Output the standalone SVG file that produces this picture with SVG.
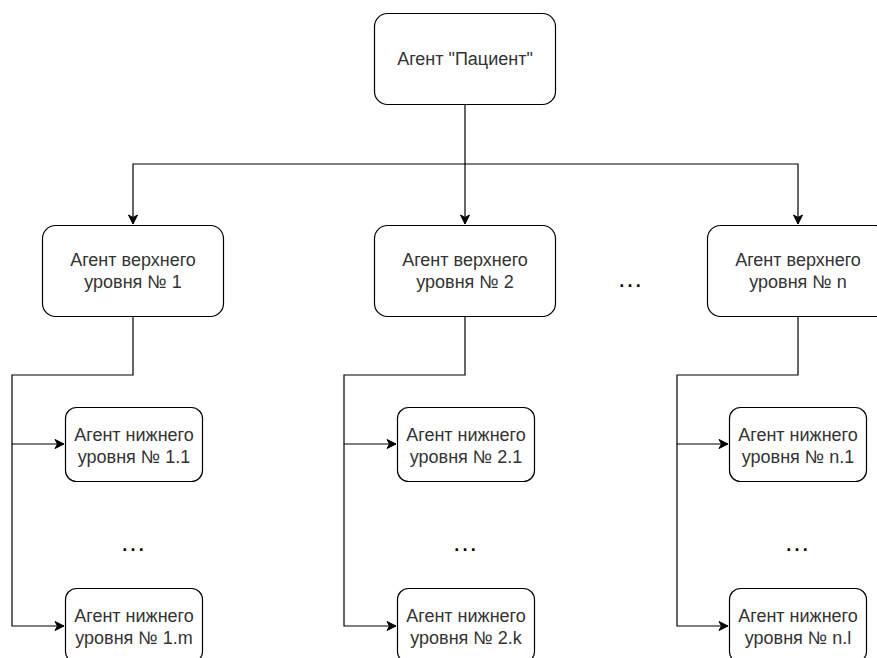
<svg xmlns="http://www.w3.org/2000/svg" width="877" height="658" viewBox="0 0 877 658">
<style>
.box{fill:#fff;stroke:#000;stroke-width:1.2}
.t{font-family:"Liberation Sans",Arial,sans-serif;font-size:18px;fill:#333;text-anchor:middle}
.c{fill:none;stroke:#000;stroke-width:1.2}
.dots{font-family:"Liberation Sans",Arial,sans-serif;font-size:26px;fill:#000;text-anchor:middle}
</style>
<defs>
<marker id="a" markerWidth="12" markerHeight="12" refX="10" refY="6" orient="auto" markerUnits="userSpaceOnUse">
<path d="M1,1.5 L10,6 L1,10.5 L3.5,6 Z" fill="#000" stroke="#000"/>
</marker>
</defs>
<g id="connectors">
<path class="c" d="M465,104 V164 H133 V224" marker-end="url(#a)"/>
<path class="c" d="M465,164 V224" marker-end="url(#a)"/>
<path class="c" d="M465,164 H798 V224" marker-end="url(#a)"/>
<path class="c" d="M133,316 V375 H12 V444 H64" marker-end="url(#a)"/>
<path class="c" d="M12,444 V626 H64" marker-end="url(#a)"/>
<path class="c" d="M465,316 V375 H344 V444 H396" marker-end="url(#a)"/>
<path class="c" d="M344,444 V626 H396" marker-end="url(#a)"/>
<path class="c" d="M798,316 V375 H677 V444 H728" marker-end="url(#a)"/>
<path class="c" d="M677,444 V626 H728" marker-end="url(#a)"/>
</g>
<g id="patient"><rect class="box" x="374.5" y="13.5" width="181" height="91" rx="13"/><text class="t" x="465" y="65">Агент "Пациент"</text></g>
<g id="top1"><rect class="box" x="42.5" y="225.5" width="181" height="91" rx="13"/><text class="t" x="133" y="266">Агент верхнего</text><text class="t" x="133" y="288">уровня № 1</text></g>
<g id="top2"><rect class="box" x="374.5" y="225.5" width="181" height="91" rx="13"/><text class="t" x="465" y="266">Агент верхнего</text><text class="t" x="465" y="288">уровня № 2</text></g>
<g id="topn"><rect class="box" x="707.5" y="225.5" width="181" height="91" rx="13"/><text class="t" x="798" y="266">Агент верхнего</text><text class="t" x="798" y="288">уровня № n</text></g>
<text class="dots" x="630" y="287">…</text>
<g id="low11"><rect class="box" x="65.5" y="407.5" width="137" height="74" rx="11"/><text class="t" x="134" y="441">Агент нижнего</text><text class="t" x="134" y="463">уровня № 1.1</text></g>
<g id="low1m"><rect class="box" x="65.5" y="588.5" width="137" height="74" rx="11"/><text class="t" x="134" y="622">Агент нижнего</text><text class="t" x="134" y="644">уровня № 1.m</text></g>
<text class="dots" x="133" y="551">…</text>
<g id="low21"><rect class="box" x="397.5" y="407.5" width="137" height="74" rx="11"/><text class="t" x="466" y="441">Агент нижнего</text><text class="t" x="466" y="463">уровня № 2.1</text></g>
<g id="low2k"><rect class="box" x="397.5" y="588.5" width="137" height="74" rx="11"/><text class="t" x="466" y="622">Агент нижнего</text><text class="t" x="466" y="644">уровня № 2.k</text></g>
<text class="dots" x="465" y="551">…</text>
<g id="lown1"><rect class="box" x="729.5" y="407.5" width="137" height="74" rx="11"/><text class="t" x="798" y="441">Агент нижнего</text><text class="t" x="798" y="463">уровня № n.1</text></g>
<g id="lownl"><rect class="box" x="729.5" y="588.5" width="137" height="74" rx="11"/><text class="t" x="798" y="622">Агент нижнего</text><text class="t" x="798" y="644">уровня № n.l</text></g>
<text class="dots" x="797" y="551">…</text>
</svg>
